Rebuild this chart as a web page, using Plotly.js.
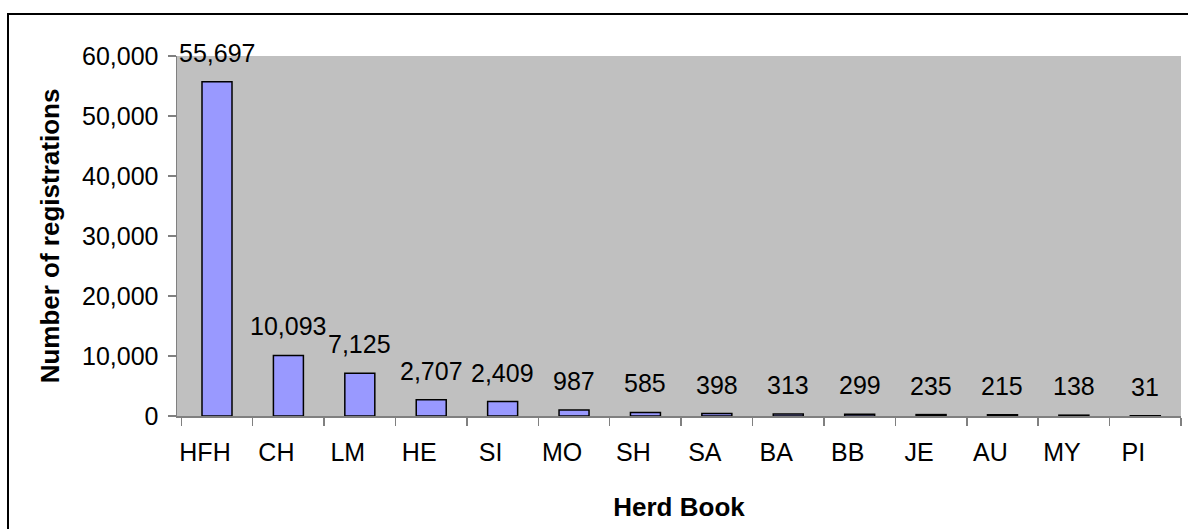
<!DOCTYPE html>
<html>
<head>
<meta charset="utf-8">
<script src="https://cdn.plot.ly/plotly-3.0.1.min.js"></script>
<style>
  html, body { margin: 0; padding: 0; background: #ffffff; }
  #wrap { position: relative; width: 1188px; height: 529px; overflow: hidden; }
  #chart { width: 1188px; height: 529px; }
  #frame { position: absolute; left: 7px; top: 13px; width: 1300px; height: 700px;
           border-left: 2px solid #000; border-top: 2px solid #000; pointer-events: none; }
</style>
</head>
<body>
<div id="wrap">
  <div id="chart"></div>
  <div id="frame"></div>
</div>
<script>
const categories = ["HFH", "CH", "LM", "HE", "SI", "MO", "SH", "SA", "BA", "BB", "JE", "AU", "MY", "PI"];
const registrations = [55697, 10093, 7125, 2707, 2409, 987, 585, 398, 313, 299, 235, 215, 138, 31];
const yTickValues = [0, 10000, 20000, 30000, 40000, 50000, 60000];
const yTickLabels = ["0", "10,000", "20,000", "30,000", "40,000", "50,000", "60,000"];

const FONT = "Arial, 'Liberation Sans', sans-serif";

const trace = {
  type: "bar",
  x: categories,
  y: registrations,
  marker: { color: "#9999FF", line: { color: "#000000", width: 1.5 } },
  hoverinfo: "x+y"
};

const annotations = categories.map((c, i) => ({
  x: c,
  y: registrations[i],
  xref: "x",
  yref: "y",
  text: registrations[i].toLocaleString("en-US"),
  showarrow: false,
  xanchor: "center",
  yanchor: "bottom",
  yshift: 13,
  font: { family: FONT, size: 25, color: "#000000" }
}));

const layout = {
  width: 1188,
  height: 529,
  margin: { l: 177, r: 7, t: 56, b: 113, pad: 0 },
  paper_bgcolor: "#ffffff",
  plot_bgcolor: "#C0C0C0",
  showlegend: false,
  bargap: 0.58,
  font: { family: FONT, size: 25, color: "#000000" },
  xaxis: {
    type: "category",
    showgrid: false,
    showline: true,
    linecolor: "#808080",
    linewidth: 1.5,
    ticks: "outside",
    tickson: "boundaries",
    ticklen: 8,
    tickcolor: "#808080",
    tickwidth: 1.5,
    ticklabelshift: -12,
    ticklabelstandoff: 13,
    tickfont: { family: FONT, size: 25, color: "#000000" },
    title: { text: "<b>Herd Book</b>", font: { family: FONT, size: 26, color: "#000000" }, standoff: 33 },
    zeroline: false
  },
  yaxis: {
    range: [0, 60000],
    tickvals: yTickValues,
    ticktext: yTickLabels,
    showgrid: false,
    showline: true,
    linecolor: "#808080",
    linewidth: 1.5,
    ticks: "outside",
    ticklen: 8,
    tickcolor: "#808080",
    tickwidth: 1.5,
    ticklabelstandoff: 4,
    tickfont: { family: FONT, size: 25, color: "#000000" },
    title: { text: "<b>Number of registrations</b>", font: { family: FONT, size: 26, color: "#000000" }, standoff: 15 },
    zeroline: false
  },
  annotations: annotations
};

Plotly.newPlot("chart", [trace], layout, { displayModeBar: false, staticPlot: true });
</script>
</body>
</html>
